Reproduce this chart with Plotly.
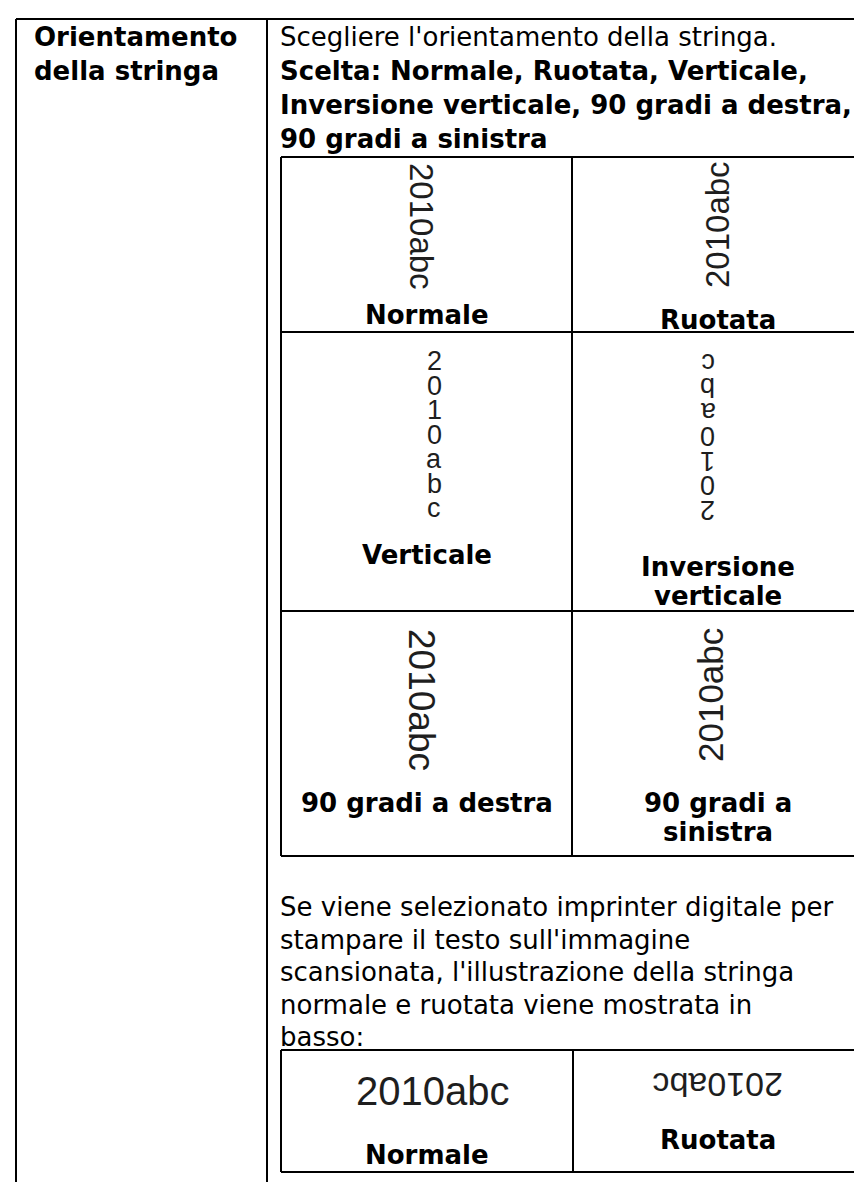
import plotly.graph_objects as go

W, H = 862, 1182

# ---------------- content (text data) ----------------
header_lines = ["Orientamento", "della stringa"]
intro_line = "Scegliere l'orientamento della stringa."
choice_lines = ["Scelta: Normale, Ruotata, Verticale,",
                "Inversione verticale, 90 gradi a destra,",
                "90 gradi a sinistra"]
sample_text = "2010abc"
grid_labels = [["Normale"], ["Ruotata"],
               ["Verticale"], ["Inversione", "verticale"],
               ["90 gradi a destra"], ["90 gradi a", "sinistra"]]
grid_modes = ["rot90", "rot-90", "stack", "stack180", "rot90", "rot-90"]
note_lines = ["Se viene selezionato imprinter digitale per",
              "stampare il testo sull'immagine",
              "scansionata, l'illustrazione della stringa",
              "normale e ruotata viene mostrata in",
              "basso:"]
bottom_labels = ["Normale", "Ruotata"]
bottom_modes = ["rot0", "rot180"]

# ---------------- geometry / styles ----------------
BODY = "DejaVu Sans"
SAMPLE = "Liberation Sans"
FS = 26
SAMPLE_COLOR = "#1e1e1e"
OUTER_TOP, OUTER_LEFT, COL_DIV = 11, 8, 259
HEAD_X, TXT_X = 25, 271
TOP_STEP = 34
NOTE_STEP = 32.5
FIRST_Y = 29
GRID_X = [273, 564, 855]
GRID_Y = [149, 324, 603, 848]
BOT_X = [273, 565, 855]
BOT_Y = [1042, 1164]
# per grid cell: sample centre x, centre y (or first char y for stacks), font size
cell_sample = [(414, 218, 33), (709, 217, 33),
               (426, 353, 27), (700, 355, 27),
               (414, 692, 37), (702, 687, 35)]
STACK_STEP = 24.5
cell_label_y = [307, 312, 547, 559, 795, 795]
LABEL_STEP = 29
NOTE_Y0 = 899
bot_sample = [(424, 1083, 40), (710, 1077, 34)]
bot_label_y = [1147, 1132]

fig = go.Figure()


def txt(x, y, s, size, bold=False, anchor="left", angle=0, family=BODY, color="black"):
    fig.add_annotation(x=x, y=y, xref="x", yref="y",
                       text=f"<b>{s}</b>" if bold else s,
                       showarrow=False, xanchor=anchor, yanchor="middle",
                       textangle=angle, borderpad=0,
                       font=dict(family=family, size=size, color=color))


def line(x0, y0, x1, y1, w=2):
    fig.add_shape(type="line", x0=x0, y0=y0, x1=x1, y1=y1, xref="x", yref="y",
                  line=dict(color="black", width=w))


# outer table
line(OUTER_LEFT, OUTER_TOP, W, OUTER_TOP)
line(OUTER_LEFT, OUTER_TOP, OUTER_LEFT, H)
line(COL_DIV, OUTER_TOP, COL_DIV, H)

# header
for i, s in enumerate(header_lines):
    txt(HEAD_X, FIRST_Y + i * TOP_STEP, s, FS, bold=True)

# intro + choices
txt(TXT_X, FIRST_Y, intro_line, FS)
for i, s in enumerate(choice_lines):
    txt(TXT_X, FIRST_Y + (i + 1) * TOP_STEP, s, FS, bold=True)

# grid lines
for y in GRID_Y:
    line(GRID_X[0], y, GRID_X[-1], y)
for x in GRID_X:
    line(x, GRID_Y[0], x, GRID_Y[-1])

# grid cells
for k, (mode, labels) in enumerate(zip(grid_modes, grid_labels)):
    cx = (GRID_X[k % 2] + GRID_X[k % 2 + 1]) / 2
    sx, sy, sfs = cell_sample[k]
    if mode == "rot90":
        txt(sx, sy, sample_text, sfs, anchor="center", angle=90, family=SAMPLE, color=SAMPLE_COLOR)
    elif mode == "rot-90":
        txt(sx, sy, sample_text, sfs, anchor="center", angle=-90, family=SAMPLE, color=SAMPLE_COLOR)
    elif mode == "stack":
        for j, ch in enumerate(sample_text):
            txt(sx, sy + j * STACK_STEP, ch, sfs, anchor="center", family=SAMPLE, color=SAMPLE_COLOR)
    elif mode == "stack180":
        for j, ch in enumerate(reversed(sample_text)):
            txt(sx, sy + j * STACK_STEP, ch, sfs, anchor="center", angle=180, family=SAMPLE, color=SAMPLE_COLOR)
    for j, s in enumerate(labels):
        txt(cx, cell_label_y[k] + j * LABEL_STEP, s, FS, bold=True, anchor="center")

# note paragraph
for i, s in enumerate(note_lines):
    txt(TXT_X, NOTE_Y0 + i * NOTE_STEP, s, FS)

# bottom table
for y in BOT_Y:
    line(BOT_X[0], y, BOT_X[-1], y)
for x in BOT_X:
    line(x, BOT_Y[0], x, BOT_Y[-1])
for k, (mode, lab) in enumerate(zip(bottom_modes, bottom_labels)):
    cx = (BOT_X[k] + BOT_X[k + 1]) / 2
    sx, sy, sfs = bot_sample[k]
    txt(sx, sy, sample_text, sfs, anchor="center", angle=0 if mode == "rot0" else 180,
        family=SAMPLE, color=SAMPLE_COLOR)
    txt(cx, bot_label_y[k], lab, FS, bold=True, anchor="center")

fig.update_layout(width=W, height=H, margin=dict(l=0, r=0, t=0, b=0),
                  paper_bgcolor="white", plot_bgcolor="white", showlegend=False,
                  xaxis=dict(range=[0, W], visible=False, fixedrange=True),
                  yaxis=dict(range=[H, 0], visible=False, fixedrange=True))
fig.write_html("out.html")
